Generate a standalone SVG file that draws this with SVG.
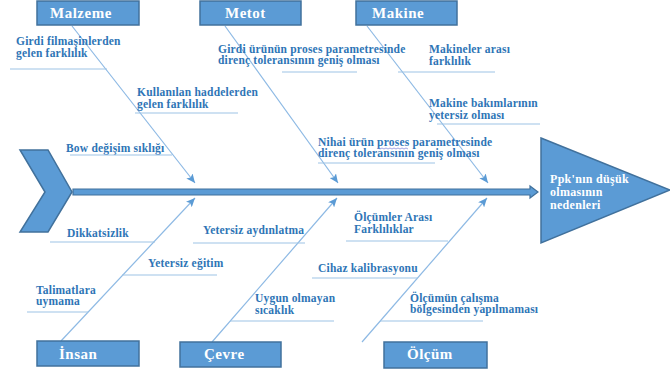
<svg xmlns="http://www.w3.org/2000/svg" width="670" height="372" viewBox="0 0 670 372">
<style>
.box{fill:#5b9bd5;stroke:#41719c;stroke-width:1.5}
.bt{font-family:"Liberation Serif","DejaVu Serif",serif;font-weight:bold;font-size:15px;fill:#fff;letter-spacing:0.5px}
.lb{font-family:"Liberation Serif","DejaVu Serif",serif;font-weight:bold;font-size:11.5px;fill:#2e75b6;letter-spacing:0.2px}
.pk{font-family:"Liberation Serif","DejaVu Serif",serif;font-weight:bold;font-size:12px;fill:#fff;letter-spacing:0.3px}
.bone{stroke:#8db9e4;stroke-width:1.2;fill:none}
.ul{stroke:#9dc3e6;stroke-width:1.2;fill:none}
</style>
<defs>
<marker id="ah" markerUnits="userSpaceOnUse" markerWidth="10" markerHeight="8" refX="9" refY="4" orient="auto">
<path d="M0,0 L9,4 L0,8 L2,4 z" fill="#5b9bd5"/>
</marker>
</defs>
<g id="head">
<polygon points="20,150 48,150 72,192 48,232 20,232 45,192" class="box"/>
</g>
<g id="spine">
<polygon points="73,189 530,189 530,186 538,192 530,198 530,195 73,195" class="box" style="stroke-width:1.2"/>
</g>
<g id="effect">
<polygon points="541,138 670,190 541,243" class="box"/>
<text class="pk" x="550" y="183">Ppk'nın düşük</text>
<text class="pk" x="550" y="196">olmasının</text>
<text class="pk" x="550" y="209">nedenleri</text>
</g>
<g id="connectors">
<line class="bone" x1="72" y1="26" x2="195" y2="183" marker-end="url(#ah)"/>
<line class="bone" x1="225" y1="26" x2="338" y2="183" marker-end="url(#ah)"/>
<line class="bone" x1="367" y1="26" x2="488" y2="183" marker-end="url(#ah)"/>
<line class="bone" x1="61" y1="341" x2="195" y2="198" marker-end="url(#ah)"/>
<line class="bone" x1="212" y1="342" x2="337" y2="198" marker-end="url(#ah)"/>
<line class="bone" x1="362" y1="342" x2="487" y2="198" marker-end="url(#ah)"/>
</g>
<g id="malzeme">
<rect class="box" x="37" y="1" width="102" height="24"/>
<text class="bt" x="50" y="18">Malzeme</text>
</g>
<g id="metot">
<rect class="box" x="200" y="1" width="101" height="24"/>
<text class="bt" x="225" y="18">Metot</text>
</g>
<g id="makine">
<rect class="box" x="356" y="1" width="101" height="24"/>
<text class="bt" x="372" y="18">Makine</text>
</g>
<g id="insan">
<rect class="box" x="37" y="341" width="102" height="25"/>
<text class="bt" x="59" y="359">İnsan</text>
</g>
<g id="cevre">
<rect class="box" x="180" y="342" width="101" height="25"/>
<text class="bt" x="204" y="359">Çevre</text>
</g>
<g id="olcum">
<rect class="box" x="384" y="342" width="103" height="26"/>
<text class="bt" x="407" y="359">Ölçüm</text>
</g>
<g id="c1">
<text class="lb" x="16" y="45">Girdi filmaşinlerden</text>
<text class="lb" x="16" y="57">gelen farklılık</text>
<line class="ul" x1="10" y1="69" x2="107" y2="69"/>
</g>
<g id="c2">
<text class="lb" x="137" y="96">Kullanılan haddelerden</text>
<text class="lb" x="137" y="108">gelen farklılık</text>
<line class="ul" x1="135" y1="113" x2="238" y2="113"/>
</g>
<g id="c3">
<text class="lb" x="218" y="53">Girdi ürünün proses parametresinde</text>
<text class="lb" x="218" y="64">direnç toleransının geniş olması</text>
<line class="ul" x1="282" y1="72" x2="357" y2="72"/>
</g>
<g id="c4">
<text class="lb" x="429" y="53">Makineler arası</text>
<text class="lb" x="429" y="65">farklılık</text>
<line class="ul" x1="398" y1="72" x2="495" y2="72"/>
</g>
<g id="c5">
<text class="lb" x="429" y="107">Makine bakımlarının</text>
<text class="lb" x="429" y="119">yetersiz olması</text>
<line class="ul" x1="437" y1="124" x2="540" y2="124"/>
</g>
<g id="c6">
<text class="lb" x="66" y="152">Bow değişim sıklığı</text>
<line class="ul" x1="70" y1="155" x2="172" y2="155"/>
</g>
<g id="c7">
<text class="lb" x="318" y="146">Nihai ürün proses parametresinde</text>
<text class="lb" x="318" y="157">direnç toleransının geniş olması</text>
<path d="M378,148 l2,1 l2,-1 l2,1 l2,-1 l2,1 l2,-1 l2,1 l2,-1 l2,1 l2,-1 l2,1 l2,-1 l2,1 l2,-1 l2,1" stroke="#7b7fd9" stroke-width="0.7" fill="none"/>
<line class="ul" x1="318" y1="163" x2="435" y2="163"/>
</g>
<g id="c8">
<text class="lb" x="67" y="237">Dikkatsizlik</text>
<line class="ul" x1="50" y1="242" x2="155" y2="242"/>
</g>
<g id="c9">
<text class="lb" x="203" y="234">Yetersiz aydınlatma</text>
<line class="ul" x1="193" y1="243" x2="305" y2="243"/>
</g>
<g id="c10">
<text class="lb" x="354" y="221">Ölçümler Arası</text>
<text class="lb" x="354" y="233">Farklılıklar</text>
<line class="ul" x1="346" y1="241" x2="448" y2="241"/>
</g>
<g id="c11">
<text class="lb" x="148" y="267">Yetersiz eğitim</text>
<line class="ul" x1="122" y1="275" x2="217" y2="275"/>
</g>
<g id="c12">
<text class="lb" x="36" y="294">Talimatlara</text>
<text class="lb" x="36" y="305">uymama</text>
<line class="ul" x1="27" y1="312" x2="88" y2="312"/>
</g>
<g id="c13">
<text class="lb" x="318" y="272">Cihaz kalibrasyonu</text>
<line class="ul" x1="312" y1="278" x2="418" y2="278"/>
</g>
<g id="c14">
<text class="lb" x="255" y="302">Uygun olmayan</text>
<text class="lb" x="255" y="314">sıcaklık</text>
<line class="ul" x1="230" y1="321" x2="334" y2="321"/>
</g>
<g id="c15">
<text class="lb" x="410" y="302">Ölçümün çalışma</text>
<text class="lb" x="410" y="313">bölgesinden yapılmaması</text>
<line class="ul" x1="380" y1="321" x2="483" y2="321"/>
</g>
</svg>
